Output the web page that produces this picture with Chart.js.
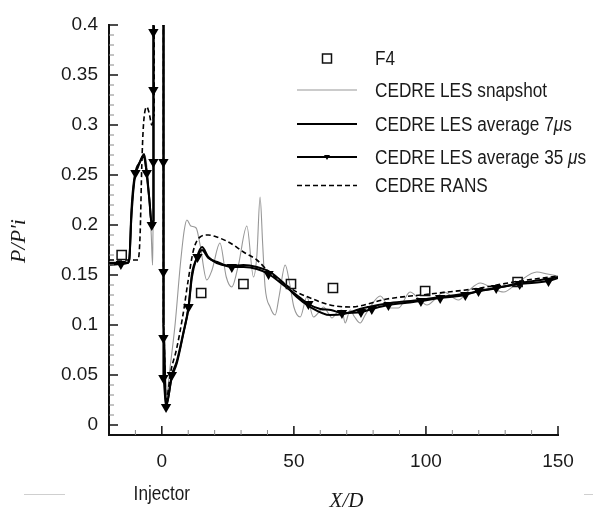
<!DOCTYPE html>
<html>
<head>
<meta charset="utf-8">
<script src="https://cdn.jsdelivr.net/npm/chart.js@4.4.1/dist/chart.umd.min.js"></script>
<style>
  html, body { margin: 0; padding: 0; background: #ffffff; }
  canvas { display: block; }
</style>
</head>
<body>
<canvas id="c" width="593" height="511"></canvas>
<script>
// ---------- DATA ----------
const seriesNames = ['F4', 'CEDRE LES snapshot', 'CEDRE LES average 7\u03bcs', 'CEDRE LES average 35 \u03bcs', 'CEDRE RANS'];

// F4 experimental points
const xF4 = [-15.2, 14.9, 30.9, 48.9, 64.8, 99.7, 134.7];
const yF4 = [0.170, 0.132, 0.141, 0.141, 0.137, 0.134, 0.143];

// CEDRE LES snapshot
const xSnap = [-20, -14, -12.5, -11.5, -10.5, -9, -7.5, -6.5, -5.5, -4.6, -4, -3.5, -3.3, -3.3, 0.5, 0.6, 1.5, 3, 5, 7, 8.5, 9.5, 11, 13, 14.5, 17, 19, 22, 24.4, 26.5, 29, 32.2, 34.7, 36, 37.2, 38.2, 39.1, 41, 42.9, 44.5, 46.7, 48.5, 50, 52.4, 54.9, 57.4, 59.5, 61.2, 63, 64.4, 66.5, 68.2, 69.4, 71.3, 73, 75.1, 77, 78.9, 82.7, 86.5, 89.6, 94, 97, 100.4, 103.5, 106.7, 112.3, 116, 120.6, 125, 129.4, 135, 142, 146, 150];
const ySnap = [0.163, 0.163, 0.166, 0.2, 0.24, 0.258, 0.266, 0.27, 0.255, 0.22, 0.19, 0.16, 0.2, 0.45, 0.45, 0.1, 0.022, 0.055, 0.1, 0.16, 0.195, 0.205, 0.199, 0.197, 0.18, 0.145, 0.155, 0.182, 0.148, 0.138, 0.16, 0.199, 0.148, 0.17, 0.228, 0.18, 0.138, 0.118, 0.11, 0.13, 0.16, 0.14, 0.118, 0.108, 0.128, 0.108, 0.113, 0.118, 0.112, 0.107, 0.113, 0.115, 0.102, 0.115, 0.108, 0.102, 0.11, 0.118, 0.129, 0.117, 0.117, 0.133, 0.127, 0.12, 0.126, 0.133, 0.125, 0.134, 0.142, 0.137, 0.133, 0.143, 0.153, 0.151, 0.149];

// CEDRE LES average 7 us
const x7 = [-20, -13, -12.3, -11.5, -10.5, -9, -7.5, -6.7, -5.7, -4.7, -3.8, -3.1, -3.1, 0.7, 0.7, 1.6, 3.8, 5.7, 8.2, 10.1, 11.4, 13.3, 15.2, 17.6, 20.8, 25.9, 30.9, 36, 41, 46.1, 51.1, 56.2, 63.7, 68.8, 76.4, 86.5, 97.8, 105.4, 114.2, 120.6, 126.9, 135.7, 145.8, 150];
const y7 = [0.162, 0.162, 0.166, 0.215, 0.245, 0.258, 0.268, 0.271, 0.25, 0.225, 0.2, 0.2, 0.45, 0.45, 0.1, 0.02, 0.048, 0.062, 0.092, 0.117, 0.148, 0.168, 0.178, 0.168, 0.162, 0.159, 0.16, 0.158, 0.153, 0.142, 0.128, 0.118, 0.11, 0.111, 0.117, 0.122, 0.125, 0.128, 0.131, 0.134, 0.137, 0.142, 0.146, 0.148];

// CEDRE LES average 35 us
const x35 = [-20, -15.5, -13, -12.3, -11.5, -10, -8.5, -7, -5.7, -4.7, -3.8, -3.2, -3.2, -3.2, -3.2, -3.2, 0.6, 0.6, 0.6, 0.6, 0.6, 1.6, 3.8, 5.7, 8.2, 10.1, 11.4, 13.5, 15.2, 17.6, 21, 26.5, 31, 36, 40.4, 46, 51, 55.5, 60, 64, 68.2, 75.4, 79.5, 85.8, 92, 98.1, 105.4, 114.9, 119.9, 126.6, 135.5, 146.4, 150];
const y35 = [0.160, 0.161, 0.162, 0.166, 0.21, 0.252, 0.262, 0.268, 0.252, 0.225, 0.2, 0.205, 0.263, 0.335, 0.393, 0.45, 0.45, 0.263, 0.153, 0.087, 0.047, 0.018, 0.05, 0.064, 0.093, 0.118, 0.151, 0.168, 0.175, 0.167, 0.163, 0.158, 0.158, 0.156, 0.151, 0.14, 0.13, 0.121, 0.116, 0.115, 0.112, 0.113, 0.116, 0.12, 0.122, 0.124, 0.127, 0.13, 0.134, 0.137, 0.141, 0.144, 0.147];
// indices (into x35/y35) that carry a triangle symbol
const marks35 = [1, 5, 8, 10, 12, 13, 14, 17, 18, 19, 20, 21, 22, 25, 27, 31, 34, 37, 40, 41, 42, 43, 45, 46, 47, 48, 49, 50, 51];

// CEDRE RANS
const xRans = [-20, -9, -8.2, -7.6, -7, -5.7, -4.8, -3.8, -2.9, -2.9, 0.6, 0.6, 1.6, 3.5, 5.5, 8, 10, 12, 14.5, 17.6, 20.8, 25.9, 30.9, 36, 41, 46.1, 51.1, 56.2, 63.7, 71.3, 85.2, 101.6, 120.6, 133.2, 150];
const yRans = [0.165, 0.165, 0.192, 0.258, 0.298, 0.318, 0.312, 0.3, 0.31, 0.45, 0.45, 0.1, 0.025, 0.055, 0.075, 0.11, 0.145, 0.175, 0.188, 0.19, 0.188, 0.182, 0.173, 0.165, 0.152, 0.142, 0.133, 0.127, 0.12, 0.118, 0.126, 0.131, 0.137, 0.143, 0.149];

// axes
const xTickValues = [0, 50, 100, 150];
const xTickLabels = ['0', '50', '100', '150'];
const xMinorTicks = [-10, 10, 20, 30, 40, 60, 70, 80, 90, 110, 120, 130, 140];
const yTickValues = [0, 0.05, 0.1, 0.15, 0.2, 0.25, 0.3, 0.35, 0.4];
const yTickLabels = ['0', '0.05', '0.1', '0.15', '0.2', '0.25', '0.3', '0.35', '0.4'];
const yMinorTicks = [0.01,0.02,0.03,0.04,0.06,0.07,0.08,0.09,0.11,0.12,0.13,0.14,0.16,0.17,0.18,0.19,0.21,0.22,0.23,0.24,0.26,0.27,0.28,0.29,0.31,0.32,0.33,0.34,0.36,0.37,0.38,0.39];
const xTitle = 'X/D';
const yTitle = "P/P'i";
const injectorLabel = 'Injector';
const injectorX = 0;

// ---------- helpers ----------
const pts = (xs, ys) => xs.map((x, i) => ({ x: x, y: ys[i] }));
const SANS = "'Liberation Sans', Arial, sans-serif";
const SERIF = "'Liberation Serif', 'DejaVu Serif', serif";
const TXT = '#1a1a1a';
const GRAY = '#979797';
const CONDENSE = 0.86;

// draw text horizontally condensed (imitates a narrow sans face)
function condensedText(ctx, parts, x, y, align) {
  ctx.save();
  ctx.textBaseline = 'middle';
  ctx.textAlign = 'left';
  let total = 0;
  parts.forEach(p => { ctx.font = p.font; total += ctx.measureText(p.t).width; });
  let start = align === 'center' ? x - total * CONDENSE / 2 : x;
  ctx.translate(start, y);
  ctx.scale(CONDENSE, 1);
  let cx = 0;
  parts.forEach(p => { ctx.font = p.font; ctx.fillText(p.t, cx, 0); cx += ctx.measureText(p.t).width; });
  ctx.restore();
}

const datasets = [
  { label: seriesNames[0], data: pts(xF4, yF4), showLine: false, order: 0,
    pointStyle: 'rect', pointRadius: 6.5, pointBorderWidth: 1.5,
    pointBackgroundColor: 'rgba(0,0,0,0)', pointBorderColor: '#111', borderColor: '#111' },
  { label: seriesNames[1], data: pts(xSnap, ySnap), order: 4, borderColor: GRAY, borderWidth: 1.1,
    pointRadius: 0, cubicInterpolationMode: 'monotone', clip: 0 },
  { label: seriesNames[2], data: pts(x7, y7), order: 2, borderColor: '#000', borderWidth: 2,
    pointRadius: 0, cubicInterpolationMode: 'monotone', clip: 0 },
  { label: seriesNames[3], data: pts(x35, y35), order: 1, borderColor: '#000', borderWidth: 2,
    pointStyle: 'triangle', rotation: 180, pointBackgroundColor: '#000', pointBorderColor: '#000',
    pointRadius: (c) => marks35.includes(c.dataIndex) ? 4 : 0,
    cubicInterpolationMode: 'monotone', clip: 0 },
  { label: seriesNames[4], data: pts(xRans, yRans), order: 3, borderColor: '#000', borderWidth: 1.6,
    borderDash: [5, 3], pointRadius: 0, cubicInterpolationMode: 'monotone', clip: 0 }
];

// inward tick marks, custom legend, extra texts
const decor = {
  id: 'decor',
  afterDraw(chart) {
    const ctx = chart.ctx;
    const xs = chart.scales.x, ys = chart.scales.y;
    const a = chart.chartArea;
    ctx.save();
    // inward ticks
    ctx.lineWidth = 1.5;
    ctx.strokeStyle = '#111';
    xTickValues.forEach(v => { const p = xs.getPixelForValue(v); ctx.beginPath(); ctx.moveTo(p, a.bottom); ctx.lineTo(p, a.bottom - 9); ctx.stroke(); });
    yTickValues.forEach(v => { const p = ys.getPixelForValue(v); ctx.beginPath(); ctx.moveTo(a.left, p); ctx.lineTo(a.left + 9, p); ctx.stroke(); });
    ctx.lineWidth = 1;
    ctx.strokeStyle = '#888';
    xMinorTicks.forEach(v => { const p = xs.getPixelForValue(v); ctx.beginPath(); ctx.moveTo(p, a.bottom); ctx.lineTo(p, a.bottom - 5); ctx.stroke(); });
    yMinorTicks.forEach(v => { const p = ys.getPixelForValue(v); ctx.beginPath(); ctx.moveTo(a.left, p); ctx.lineTo(a.left + 5, p); ctx.stroke(); });

    // legend
    const rowsY = [58.5, 90, 124, 157, 185.5];
    const x0 = 297, x1 = 357, xm = 327, tx = 375;
    ctx.fillStyle = TXT;
    chart.data.datasets.forEach((ds, i) => {
      const y = rowsY[i];
      ctx.save();
      if (i === 0) {
        ctx.strokeStyle = '#111'; ctx.lineWidth = 1.5;
        ctx.strokeRect(xm - 4.5, y - 4.5, 9, 9);
      } else {
        ctx.strokeStyle = ds.borderColor; ctx.lineWidth = ds.borderWidth;
        ctx.setLineDash(ds.borderDash || []);
        ctx.beginPath(); ctx.moveTo(x0, y); ctx.lineTo(x1, y); ctx.stroke();
        if (i === 3) {
          ctx.setLineDash([]);
          ctx.fillStyle = '#000';
          ctx.beginPath(); ctx.moveTo(xm - 3, y - 2); ctx.lineTo(xm + 3, y - 2); ctx.lineTo(xm, y + 3); ctx.closePath(); ctx.fill();
        }
      }
      ctx.restore();
      const segs = ds.label.split('\u03bc');
      const parts = [];
      segs.forEach((s, k) => {
        parts.push({ t: s, font: '20px ' + SANS });
        if (k < segs.length - 1) parts.push({ t: '\u03bc', font: 'italic 20px ' + SANS });
      });
      condensedText(ctx, parts, tx, y + 1, 'left');
    });

    // injector label
    condensedText(ctx, [{ t: injectorLabel, font: '20px ' + SANS }], xs.getPixelForValue(injectorX), 494, 'center');
    // x title
    ctx.textAlign = 'center';
    ctx.textBaseline = 'middle';
    ctx.font = 'italic 21px ' + SERIF;
    ctx.fillText(xTitle, (a.left + a.right) / 2 + 13, 501);
    // y title
    ctx.save();
    ctx.translate(19, 241);
    ctx.rotate(-Math.PI / 2);
    ctx.font = 'italic 22px ' + SERIF;
    ctx.fillText(yTitle, 0, 0);
    ctx.restore();
    // faint scan lines at the bottom
    ctx.strokeStyle = '#cfcfcf'; ctx.lineWidth = 1;
    ctx.beginPath(); ctx.moveTo(24, 494.5); ctx.lineTo(65, 494.5); ctx.stroke();
    ctx.beginPath(); ctx.moveTo(584, 494.5); ctx.lineTo(593, 494.5); ctx.stroke();
    ctx.restore();
  }
};

new Chart(document.getElementById('c').getContext('2d'), {
  type: 'line',
  data: { datasets: datasets },
  options: {
    responsive: false,
    animation: false,
    events: [],
    layout: { padding: { left: 0, right: 35, top: 25, bottom: 0 } },
    plugins: { legend: { display: false }, tooltip: { enabled: false } },
    scales: {
      x: {
        type: 'linear', min: -20, max: 150,
        grid: { display: false, drawTicks: false },
        border: { display: true, color: '#111', width: 2 },
        ticks: { color: TXT, font: { family: SANS, size: 19 }, padding: 15,
                 callback: (v, i) => xTickLabels[i] },
        afterBuildTicks: (s) => { s.ticks = xTickValues.map(v => ({ value: v })); },
        afterFit: (s) => { s.height = 76; }
      },
      y: {
        type: 'linear', min: -0.01, max: 0.4,
        grid: { display: false, drawTicks: false },
        border: { display: true, color: '#111', width: 2 },
        ticks: { color: TXT, font: { family: SANS, size: 19 }, padding: 11,
                 callback: (v, i) => yTickLabels[i] },
        afterBuildTicks: (s) => { s.ticks = yTickValues.map(v => ({ value: v })); },
        afterFit: (s) => { s.width = 109; }
      }
    }
  },
  plugins: [decor]
});
</script>
</body>
</html>
